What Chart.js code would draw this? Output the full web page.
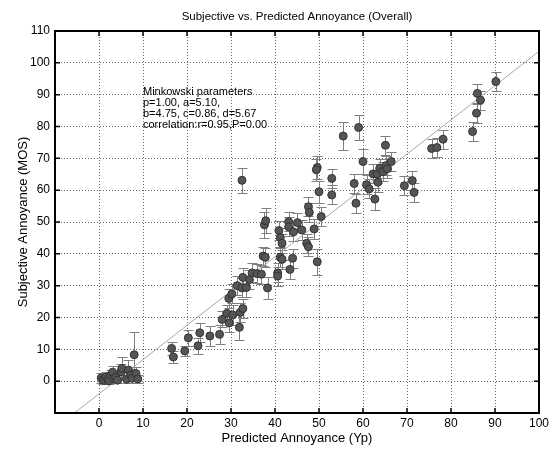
<!DOCTYPE html>
<html>
<head>
<meta charset="utf-8">
<script src="https://cdn.jsdelivr.net/npm/chart.js@4/dist/chart.umd.min.js"></script>
<style>
  html, body { margin: 0; padding: 0; background: #fff; }
  #wrap { width: 555px; height: 449px; }
</style>
</head>
<body>
<div id="wrap"><canvas id="chart-annoyance"></canvas></div>
<script>
// ── Data (predicted Yp, subjective MOS, error half-length)
const predicted = [
  0.5, 0.8, 1.2, 1.6, 2.0, 2.3, 2.7, 3.1, 3.4, 3.8, 4.2, 5.0, 5.2, 6.3, 6.7, 7.2, 7.6, 8.0, 8.4, 8.8,
  16.5, 16.9, 19.5, 20.3, 22.5, 22.9, 25.2, 27.4, 28.0, 29.1, 29.6, 29.5, 30.2, 30.4, 31.4, 31.9, 32.1,
  32.5, 32.7, 32.7, 33.5, 34.2, 34.8, 35.9, 36.9, 38.3, 37.3, 37.8, 37.6, 37.9, 40.6, 40.6, 43.4, 41.2,
  41.6, 44.0, 40.9, 41.2, 41.6, 43.1, 43.1, 44.2, 45.1, 46.1, 47.2, 47.6, 47.6, 47.8, 48.9, 49.6, 50.5,
  50.0, 49.6, 49.4, 52.9, 52.9, 32.5, 55.5, 59.0, 60.0, 58.0, 58.4, 60.8, 61.4, 62.7, 62.3, 63.2, 63.4,
  63.8, 64.5, 65.2, 65.5, 66.4, 65.1, 69.4, 71.2, 71.6, 75.6, 76.8, 78.2, 84.9, 85.8, 86.0, 86.7, 90.2
];
const subjective = [
  1.0, 0.4, 0.2, 1.3, 0.6, 0.1, 1.9, 2.8, 0.8, 1.2, 0.3, 2.9, 4.0, 0.6, 3.5, 1.9, 0.9, 8.3, 2.4, 0.7,
  10.3, 7.6, 9.5, 13.6, 11.1, 15.2, 14.2, 14.7, 19.4, 21.3, 18.3, 26.0, 27.4, 20.8, 30.0, 16.9, 21.6,
  29.3, 22.8, 32.6, 29.4, 31.9, 34.0, 33.8, 33.6, 29.3, 39.3, 38.9, 49.1, 50.4, 34.0, 33.0, 35.1, 38.9,
  38.3, 38.6, 47.3, 45.1, 43.3, 50.1, 48.5, 46.9, 49.8, 47.5, 43.3, 42.2, 54.8, 53.0, 47.8, 37.5, 51.7,
  59.5, 67.1, 66.4, 63.7, 58.5, 63.1, 77.0, 79.7, 69.0, 62.1, 55.9, 61.7, 60.4, 57.2, 65.1, 65.1, 62.5,
  66.9, 65.8, 67.7, 66.7, 69.0, 74.1, 61.4, 63.0, 59.3, 73.1, 73.4, 76.0, 78.4, 84.2, 90.4, 88.3, 94.1
];
const errHalf = [
  1.5, 1.2, 1.0, 1.5, 1.2, 1.0, 1.5, 2.0, 1.2, 1.5, 1.0, 2.5, 3.5, 1.2, 3.0, 2.0, 1.5, 7.0, 2.0, 1.2,
  2.0, 2.0, 1.5, 2.5, 2.5, 3.0, 3.0, 3.0, 2.5, 2.5, 3.0, 3.0, 3.0, 3.0, 3.0, 4.0, 3.0,
  3.0, 3.0, 3.0, 3.0, 3.0, 3.0, 3.0, 3.0, 3.5, 3.0, 3.0, 4.0, 4.0, 3.0, 3.0, 3.0, 3.0,
  3.0, 3.0, 3.0, 3.0, 3.0, 3.0, 3.0, 3.0, 3.0, 3.0, 3.0, 3.0, 3.0, 3.0, 3.0, 4.0, 3.0,
  3.5, 3.5, 3.5, 3.0, 3.0, 4.0, 4.5, 4.0, 4.0, 3.0, 3.0, 3.0, 3.0, 3.5, 3.0, 3.0, 3.0,
  3.0, 3.0, 3.0, 3.0, 3.0, 3.0, 3.0, 3.0, 3.0, 3.0, 3.0, 3.0, 3.0, 3.0, 3.0, 3.0, 3.0
];

// ── Fitted line end points and axis ranges
const fitX   = [-5.6, 100];
const fitY   = [-10, 103.6];
const xRange = [-10, 100];
const yRange = [-10, 110];
const tickStep = 10;

// ── Texts
const chartTitle = 'Subjective vs. Predicted Annoyance (Overall)';
const noteAt     = { x: 10, y: 91 };   // anchor in data units, like a text() call
const noteLines  = [
  'Minkowski parameters',
  'p=1.00, a=5.10,',
  'b=4.75, c=0.86, d=5.67',
  'correlation:r=0.95,P=0.00'
];

const FONT = 'Arial, "Liberation Sans", Helvetica, sans-serif';
Chart.defaults.font.family = FONT;
Chart.defaults.font.size = 12;
Chart.defaults.color = '#000';

// ── Error bars under the markers
const errorBars = {
  id: 'errorBars',
  beforeDatasetsDraw(chart) {
    const { ctx, chartArea: a, scales: { y } } = chart;
    const meta = chart.getDatasetMeta(0);
    ctx.save();
    ctx.beginPath();
    ctx.rect(a.left, a.top, a.right - a.left, a.bottom - a.top);
    ctx.clip();
    ctx.strokeStyle = '#7f7f7f';
    ctx.lineWidth = 1;
    meta.data.forEach((pt, i) => {
      const top = Math.round(y.getPixelForValue(subjective[i] + errHalf[i])) + 0.5;
      const bot = Math.round(y.getPixelForValue(subjective[i] - errHalf[i])) + 0.5;
      const px  = Math.round(pt.x) + 0.5;
      ctx.beginPath();
      ctx.moveTo(px, top); ctx.lineTo(px, bot);
      ctx.moveTo(px - 5, top); ctx.lineTo(px + 5, top);
      ctx.moveTo(px - 5, bot); ctx.lineTo(px + 5, bot);
      ctx.stroke();
    });
    ctx.restore();
  }
};

// ── Box frame, inward ticks, title and the text annotation
const frameAndNote = {
  id: 'frameAndNote',
  afterDraw(chart) {
    const { ctx, chartArea: a, scales: { x, y } } = chart;
    ctx.save();
    ctx.strokeStyle = '#000';
    ctx.lineWidth = 2;
    ctx.strokeRect(a.left, a.top, a.right - a.left, a.bottom - a.top);

    ctx.lineWidth = 1.5;
    ctx.beginPath();
    x.ticks.forEach(t => {
      const px = x.getPixelForValue(t.value);
      if (px <= a.left + 1 || px >= a.right - 1) return;
      ctx.moveTo(px, a.bottom); ctx.lineTo(px, a.bottom - 5);
      ctx.moveTo(px, a.top);    ctx.lineTo(px, a.top + 5);
    });
    y.ticks.forEach(t => {
      const py = y.getPixelForValue(t.value);
      if (py <= a.top + 1 || py >= a.bottom - 1) return;
      ctx.moveTo(a.left, py);  ctx.lineTo(a.left + 5, py);
      ctx.moveTo(a.right, py); ctx.lineTo(a.right - 5, py);
    });
    ctx.stroke();

    ctx.fillStyle = '#000';
    ctx.textBaseline = 'middle';
    ctx.textAlign = 'center';
    ctx.font = '11.5px ' + FONT;
    ctx.fillText(chartTitle, (a.left + a.right) / 2, a.top - 14);

    ctx.font = '11px ' + FONT;
    ctx.textAlign = 'left';
    const nx = x.getPixelForValue(noteAt.x);
    const ny = y.getPixelForValue(noteAt.y);
    noteLines.forEach((line, i) => ctx.fillText(line, nx, ny + i * 11));
    ctx.restore();
  }
};

const gridOpts = { color: 'rgba(0,0,0,0.6)', lineWidth: 1, drawTicks: false };

new Chart(document.getElementById('chart-annoyance'), {
  type: 'scatter',
  data: {
    datasets: [
      {
        label: 'MOS',
        data: predicted.map((v, i) => ({ x: v, y: subjective[i] })),
        pointRadius: 4,
        pointHoverRadius: 4,
        backgroundColor: '#555',
        borderColor: '#333',
        borderWidth: 1,
        order: 1
      },
      {
        type: 'line',
        label: 'fit',
        data: fitX.map((v, i) => ({ x: v, y: fitY[i] })),
        borderColor: '#a8a8a8',
        borderWidth: 1,
        pointRadius: 0,
        fill: false,
        order: 2
      }
    ]
  },
  options: {
    responsive: true,
    maintainAspectRatio: false,
    animation: false,
    layout: { padding: { left: 0, right: 16, top: 31, bottom: 0 } },
    plugins: {
      legend: { display: false },
      tooltip: { enabled: false },
      title: { display: false }
    },
    scales: {
      x: {
        type: 'linear',
        min: xRange[0], max: xRange[1],
        grid: gridOpts,
        border: { display: false, dash: [1, 2] },
        ticks: {
          stepSize: tickStep, padding: 3, color: '#000',
          callback: v => (v === xRange[0] ? '' : v)
        },
        title: { display: true, text: 'Predicted Annoyance (Yp)', color: '#000',
                 font: { size: 13 }, padding: { top: 0, bottom: 3 } },
        afterFit: s => { s.height = 36; }
      },
      y: {
        type: 'linear',
        min: yRange[0], max: yRange[1],
        grid: gridOpts,
        border: { display: false, dash: [1, 2] },
        ticks: {
          stepSize: tickStep, padding: 5, color: '#000',
          callback: v => (v === yRange[0] ? '' : v)
        },
        title: { display: true, text: 'Subjective Annoyance (MOS)', color: '#000',
                 font: { size: 13 }, padding: { top: 16, bottom: 0 } },
        afterFit: s => { s.width = 55; }
      }
    }
  },
  plugins: [errorBars, frameAndNote]
});
</script>
</body>
</html>
